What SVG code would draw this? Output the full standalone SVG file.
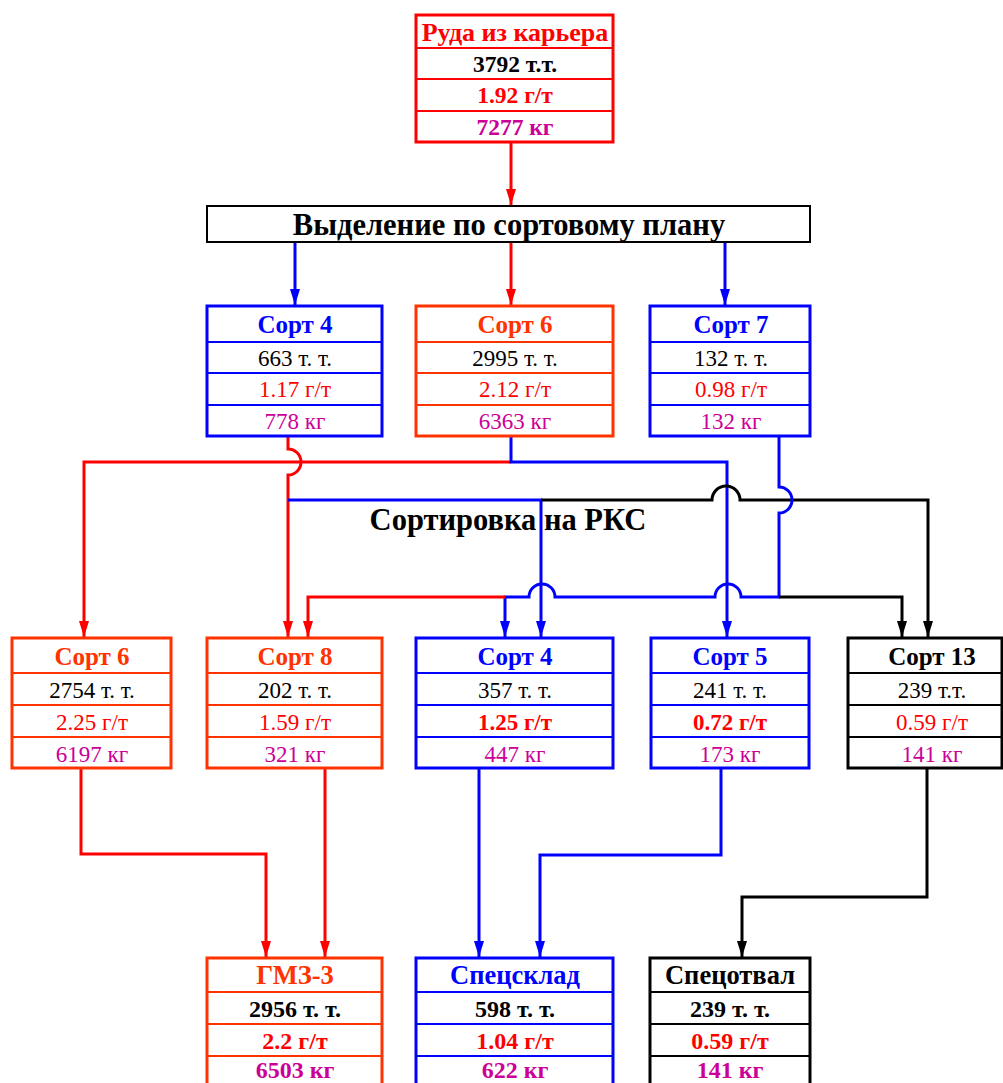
<svg xmlns="http://www.w3.org/2000/svg" width="1003" height="1083" viewBox="0 0 1003 1083">
<style>
text{font-family:"Liberation Serif","Times New Roman",serif;text-anchor:middle}
.h{font-weight:bold;font-size:25px}
.hb{font-weight:bold;font-size:26.5px}
.v{font-size:23px}
.vb{font-size:24px;font-weight:bold}
.b{font-weight:bold}
.k{fill:#000}
.r{fill:#FF0000}
.m{fill:#CC0099}
.bl{fill:#0000FF}
.o{fill:#FF3300}
.box{fill:#fff;stroke-width:3}
.sep{stroke-width:2}
.ln{fill:none;stroke-width:3}
</style>
<defs>
<marker id="ar" markerUnits="userSpaceOnUse" markerWidth="16" markerHeight="10" refX="16" refY="5" orient="auto"><path d="M0,0L16,5L0,10z" fill="#FF0000"/></marker>
<marker id="ab" markerUnits="userSpaceOnUse" markerWidth="16" markerHeight="10" refX="16" refY="5" orient="auto"><path d="M0,0L16,5L0,10z" fill="#0000FF"/></marker>
<marker id="ak" markerUnits="userSpaceOnUse" markerWidth="16" markerHeight="10" refX="16" refY="5" orient="auto"><path d="M0,0L16,5L0,10z" fill="#000"/></marker>
</defs>
<rect width="1003" height="1083" fill="#fff"/>

<g id="connectors">
<path class="ln" stroke="#FF0000" d="M511,143V205" marker-end="url(#ar)"/>
<path class="ln" stroke="#0000FF" d="M295,243V305" marker-end="url(#ab)"/>
<path class="ln" stroke="#FF0000" d="M511,243V305" marker-end="url(#ar)"/>
<path class="ln" stroke="#0000FF" d="M725,243V305" marker-end="url(#ab)"/>
<path class="ln" stroke="#FF0000" d="M511,462H84V637" marker-end="url(#ar)"/>
<path class="ln" stroke="#FF0000" d="M288,436V449A13,13 0 0 1 288,475V637" marker-end="url(#ar)"/>
<path class="ln" stroke="#0000FF" d="M511,436V462H727V637" marker-end="url(#ab)"/>
<path class="ln" stroke="#0000FF" d="M288,500H541V637" marker-end="url(#ab)"/>
<path class="ln" stroke="#000" d="M541,500H712A14,14 0 0 1 740,500H928V637" marker-end="url(#ak)"/>
<path class="ln" stroke="#0000FF" d="M779,436V487A13,13 0 0 1 779,513V597H741A13,13 0 0 0 715,597H555A13,13 0 0 0 529,597H505V637" marker-end="url(#ab)"/>
<path class="ln" stroke="#000" d="M779,597H902V637" marker-end="url(#ak)"/>
<path class="ln" stroke="#FF0000" d="M505,597H308V637" marker-end="url(#ar)"/>
<path class="ln" stroke="#FF0000" d="M81,768V854H266V957" marker-end="url(#ar)"/>
<path class="ln" stroke="#FF0000" d="M325,768V957" marker-end="url(#ar)"/>
<path class="ln" stroke="#0000FF" d="M479,768V957" marker-end="url(#ab)"/>
<path class="ln" stroke="#0000FF" d="M721,768V855H540V957" marker-end="url(#ab)"/>
<path class="ln" stroke="#000" d="M927,768V897H742V957" marker-end="url(#ak)"/>
</g>

<g id="ore">
<rect class="box" x="416" y="15" width="197" height="127" stroke="#FF0000"/>
<path class="sep" stroke="#FF0000" d="M416,48H613M416,79H613M416,111H613"/>
<text x="515" y="41" class="b r" font-size="26">Руда из карьера</text>
<text x="515" y="72" class="b k" font-size="23.5">3792 т.т.</text>
<text x="515" y="103" class="b r" font-size="23.5">1.92 г/т</text>
<text x="515" y="135" class="b m" font-size="23.5">7277 кг</text>
</g>

<g id="bar">
<rect x="207" y="206" width="603" height="36" fill="#fff" stroke="#000" stroke-width="2"/>
<text x="509" y="235" class="b k" font-size="30.5">Выделение по сортовому плану</text>
</g>

<g id="s4a">
<rect class="box" x="207" y="306" width="175" height="130" stroke="#0000FF"/>
<path class="sep" stroke="#0000FF" d="M207,342H382M207,373H382M207,405H382"/>
<text x="295" y="333" class="h bl">Сорт 4</text>
<text x="295" y="366" class="v k">663 т. т.</text>
<text x="295" y="397" class="v r">1.17 г/т</text>
<text x="295" y="429" class="v m">778 кг</text>
</g>
<g id="s6a">
<rect class="box" x="416" y="306" width="197" height="130" stroke="#FF3300"/>
<path class="sep" stroke="#FF3300" d="M416,342H613M416,373H613M416,405H613"/>
<text x="515" y="333" class="h o">Сорт 6</text>
<text x="515" y="366" class="v k">2995 т. т.</text>
<text x="515" y="397" class="v r">2.12 г/т</text>
<text x="515" y="429" class="v m">6363 кг</text>
</g>
<g id="s7">
<rect class="box" x="650" y="306" width="160" height="130" stroke="#0000FF"/>
<path class="sep" stroke="#0000FF" d="M650,342H810M650,373H810M650,405H810"/>
<text x="731" y="333" class="h bl">Сорт 7</text>
<text x="731" y="366" class="v k">132 т. т.</text>
<text x="731" y="397" class="v r">0.98 г/т</text>
<text x="731" y="429" class="v m">132 кг</text>
</g>

<text x="508" y="530" class="b k" font-size="30.5">Сортировка на РКС</text>

<g id="s6b">
<rect class="box" x="12" y="638" width="159" height="130" stroke="#FF3300"/>
<path class="sep" stroke="#FF3300" d="M12,673H171M12,705H171M12,737H171"/>
<text x="92" y="665" class="h o">Сорт 6</text>
<text x="92" y="698" class="v k">2754 т. т.</text>
<text x="92" y="730" class="v r">2.25 г/т</text>
<text x="92" y="762" class="v m">6197 кг</text>
</g>
<g id="s8">
<rect class="box" x="207" y="638" width="175" height="130" stroke="#FF3300"/>
<path class="sep" stroke="#FF3300" d="M207,673H382M207,705H382M207,737H382"/>
<text x="295" y="665" class="h o">Сорт 8</text>
<text x="295" y="698" class="v k">202 т. т.</text>
<text x="295" y="730" class="v r">1.59 г/т</text>
<text x="295" y="762" class="v m">321 кг</text>
</g>
<g id="s4b">
<rect class="box" x="416" y="638" width="197" height="130" stroke="#0000FF"/>
<path class="sep" stroke="#0000FF" d="M416,673H613M416,705H613M416,737H613"/>
<text x="515" y="665" class="h bl">Сорт 4</text>
<text x="515" y="698" class="v k">357 т. т.</text>
<text x="515" y="730" class="v b r">1.25 г/т</text>
<text x="515" y="762" class="v m">447 кг</text>
</g>
<g id="s5">
<rect class="box" x="651" y="638" width="158" height="130" stroke="#0000FF"/>
<path class="sep" stroke="#0000FF" d="M651,673H809M651,705H809M651,737H809"/>
<text x="730" y="665" class="h bl">Сорт 5</text>
<text x="730" y="698" class="v k">241 т. т.</text>
<text x="730" y="730" class="v b r">0.72 г/т</text>
<text x="730" y="762" class="v m">173 кг</text>
</g>
<g id="s13">
<rect class="box" x="848" y="638" width="154" height="130" stroke="#000"/>
<path class="sep" stroke="#000" d="M848,673H1002M848,705H1002M848,737H1002"/>
<text x="932" y="665" class="h k">Сорт 13</text>
<text x="932" y="698" class="v k">239 т.т.</text>
<text x="932" y="730" class="v r">0.59 г/т</text>
<text x="932" y="762" class="v m">141 кг</text>
</g>

<g id="gmz">
<rect class="box" x="207" y="958" width="175" height="132" stroke="#FF3300"/>
<path class="sep" stroke="#FF3300" d="M207,992H382M207,1024H382M207,1056H382"/>
<text x="295" y="984" class="hb o">ГМЗ-3</text>
<text x="295" y="1017" class="vb k">2956 т. т.</text>
<text x="295" y="1049" class="vb r">2.2 г/т</text>
<text x="295" y="1078" class="vb m">6503 кг</text>
</g>
<g id="spsklad">
<rect class="box" x="416" y="958" width="197" height="132" stroke="#0000FF"/>
<path class="sep" stroke="#0000FF" d="M416,992H613M416,1024H613M416,1056H613"/>
<text x="515" y="984" class="hb bl">Спецсклад</text>
<text x="515" y="1017" class="vb k">598 т. т.</text>
<text x="515" y="1049" class="vb r">1.04 г/т</text>
<text x="515" y="1078" class="vb m">622 кг</text>
</g>
<g id="spotval">
<rect class="box" x="650" y="958" width="160" height="132" stroke="#000"/>
<path class="sep" stroke="#000" d="M650,992H810M650,1024H810M650,1056H810"/>
<text x="730" y="984" class="hb k">Спецотвал</text>
<text x="730" y="1017" class="vb k">239 т. т.</text>
<text x="730" y="1049" class="vb r">0.59 г/т</text>
<text x="730" y="1078" class="vb m">141 кг</text>
</g>
</svg>
